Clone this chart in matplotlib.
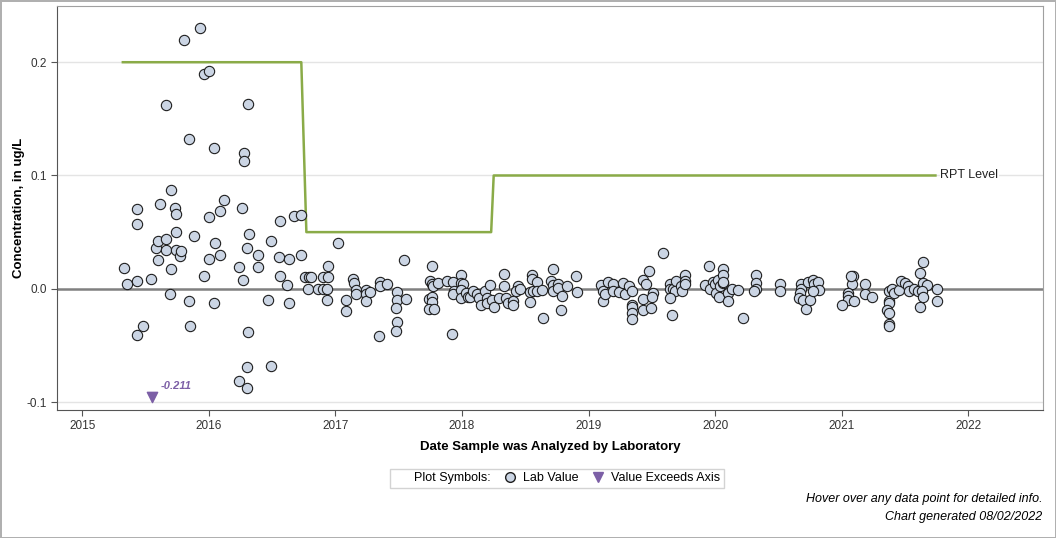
import matplotlib
matplotlib.use("Agg")
import matplotlib.pyplot as plt
from matplotlib.lines import Line2D

plt.rcParams["font.family"] = ["Liberation Sans", "DejaVu Sans"]

# sample dates as decimal years, concentrations in ug/L
sample_year = [
    2015.33, 2015.35, 2015.43, 2015.43, 2015.43, 2015.43, 2015.48, 2015.54, 2015.60, 2015.58,
    2015.60, 2015.61, 2015.66, 2015.66, 2015.66, 2015.69, 2015.70, 2015.70, 2015.73, 2015.74,
    2015.74, 2015.74, 2015.77, 2015.78, 2015.80, 2015.84, 2015.84, 2015.85, 2015.88, 2015.93,
    2015.96, 2015.96, 2016.00, 2016.00, 2016.00, 2016.04, 2016.04, 2016.05, 2016.09, 2016.09,
    2016.12,
    2016.31, 2016.28, 2016.28, 2016.26, 2016.56, 2016.67, 2016.73, 2016.32, 2016.49, 2016.30,
    2017.02, 2016.39, 2016.55, 2016.63, 2016.73, 2016.24, 2016.39, 2016.27, 2016.56, 2016.94,
    2016.76, 2016.79, 2016.81, 2016.90, 2016.94, 2016.62, 2016.78, 2016.86, 2016.90, 2016.93,
    2016.47, 2016.63, 2016.93, 2017.08, 2017.08, 2016.31, 2016.30, 2016.49, 2016.24, 2016.30,
    2017.54, 2017.76, 2017.14, 2017.15, 2017.16, 2017.16, 2017.24, 2017.24, 2017.24, 2017.27,
    2017.35, 2017.35, 2017.41, 2017.34, 2017.49, 2017.49, 2017.48, 2017.49, 2017.48, 2017.56,
    2017.75, 2017.76, 2017.77, 2017.74, 2017.76, 2017.76, 2017.74, 2017.78, 2017.81, 2017.88,
    2017.93, 2017.94, 2017.93, 2017.99, 2017.99, 2018.01, 2017.99, 2017.99, 2018.03, 2018.05,
    2017.92,
    2018.06, 2018.09, 2018.12, 2018.13, 2018.15, 2018.18, 2018.20, 2018.20, 2018.22, 2018.24,
    2018.25, 2018.29, 2018.33, 2018.33, 2018.35, 2018.36, 2018.40, 2018.40, 2018.44, 2018.43,
    2018.46, 2018.55, 2018.55, 2018.59, 2018.54, 2018.54, 2018.56, 2018.59, 2018.63, 2018.64,
    2018.70, 2018.72, 2018.72, 2018.72, 2018.76, 2018.76, 2018.79, 2018.78, 2018.83, 2018.90,
    2018.91,
    2019.10, 2019.11, 2019.11, 2019.13, 2019.15, 2019.19, 2019.19, 2019.24, 2019.27, 2019.29,
    2019.32, 2019.34, 2019.34, 2019.34, 2019.34, 2019.34, 2019.43, 2019.45, 2019.48, 2019.43,
    2019.51, 2019.50, 2019.43, 2019.49, 2019.59, 2019.64, 2019.64, 2019.67, 2019.69, 2019.68,
    2019.64, 2019.66, 2019.73, 2019.74, 2019.76, 2019.76, 2019.76, 2019.92, 2019.95, 2019.98,
    2019.96, 2020.00, 2020.01, 2020.02, 2020.04, 2020.06, 2020.06, 2020.06, 2020.06, 2020.03,
    2020.10, 2020.10,
    2020.13, 2020.18, 2020.22, 2020.32, 2020.32, 2020.32, 2020.31, 2020.51, 2020.51, 2020.68,
    2020.68, 2020.67, 2020.66, 2020.69, 2020.72, 2020.75, 2020.73, 2020.77, 2020.78, 2020.81,
    2020.82, 2020.77, 2021.09, 2021.08, 2021.05, 2021.05, 2021.05, 2021.00, 2021.10, 2021.07,
    2021.18, 2021.18, 2021.24, 2021.37, 2021.40, 2021.37, 2021.37, 2021.36, 2021.37, 2021.37,
    2021.37, 2021.41, 2021.45, 2021.47, 2021.50, 2021.52, 2021.53, 2021.57, 2021.60, 2021.64,
    2021.62, 2021.64, 2021.67, 2021.63, 2021.64, 2021.62, 2021.75, 2021.75,
]
concentration = [
    0.018, 0.004, 0.007, 0.070, 0.057, -0.041, -0.033, 0.009, 0.025, 0.036,
    0.042, 0.075, 0.044, 0.162, 0.034, -0.005, 0.017, 0.087, 0.071, 0.066,
    0.050, 0.034, 0.029, 0.033, 0.220, 0.132, -0.011, -0.033, 0.047, 0.230,
    0.011, 0.190, 0.192, 0.063, 0.026, 0.124, -0.013, 0.040, 0.069, 0.030,
    0.078,
    0.163, 0.120, 0.113, 0.071, 0.060, 0.064, 0.065, 0.048, 0.042, 0.036,
    0.040, 0.030, 0.028, 0.026, 0.030, 0.019, 0.019, 0.008, 0.011, 0.020,
    0.010, 0.010, 0.010, 0.010, 0.010, 0.003, 0.000, 0.000, 0.000, 0.000,
    -0.010, -0.013, -0.010, -0.010, -0.020, -0.038, -0.069, -0.068, -0.081, -0.088,
    0.025, 0.020, 0.009, 0.005, -0.001, -0.005, -0.001, -0.005, -0.011, -0.003,
    0.006, 0.002, 0.004, -0.042, -0.003, -0.010, -0.017, -0.029, -0.037, -0.009,
    0.007, 0.004, 0.002, -0.009, -0.007, -0.012, -0.018, -0.018, 0.005, 0.007,
    0.006, -0.002, -0.005, 0.012, 0.005, 0.004, -0.001, -0.008, -0.004, -0.007,
    -0.040,
    -0.007, -0.002, -0.005, -0.008, -0.014, -0.002, -0.008, -0.013, 0.003, -0.010,
    -0.016, -0.008, 0.013, 0.002, -0.008, -0.013, -0.011, -0.014, 0.002, -0.002,
    0.000, 0.012, 0.009, 0.006, -0.003, -0.012, -0.002, -0.002, -0.001, -0.026,
    0.007, 0.017, 0.003, -0.002, 0.004, 0.001, -0.006, -0.019, 0.002, 0.011,
    -0.003,
    0.003, -0.002, -0.011, -0.005, 0.006, 0.004, -0.002, -0.003, 0.005, -0.005,
    0.002, -0.002, -0.014, -0.016, -0.021, -0.027, 0.008, 0.004, 0.016, -0.009,
    -0.004, -0.007, -0.019, -0.017, 0.032, 0.004, 0.000, 0.000, 0.007, -0.002,
    -0.008, -0.023, 0.002, -0.002, 0.012, 0.007, 0.004, 0.003, 0.020, 0.006,
    0.000, 0.004, -0.004, 0.008, 0.002, 0.005, 0.017, 0.012, 0.006, -0.007,
    -0.004, -0.011,
    0.000, -0.001, -0.026, 0.012, 0.005, 0.000, -0.002, 0.004, -0.002, 0.004,
    0.000, -0.004, -0.008, -0.010, -0.018, -0.010, 0.006, 0.008, 0.004, 0.006,
    -0.001, -0.002, 0.011, 0.004, -0.004, -0.006, -0.010, -0.014, -0.011, 0.011,
    0.004, -0.005, -0.007, -0.002, 0.000, -0.011, -0.013, -0.019, -0.021, -0.031,
    -0.033, -0.004, -0.001, 0.007, 0.005, 0.002, -0.002, 0.000, -0.002, 0.024,
    0.014, 0.005, 0.003, -0.002, -0.007, -0.016, 0.000, -0.011,
]

# value below the axis range
exceed_year = [2015.55]
exceed_value = [-0.211]

# reporting level (step line)
rpt_year = [2015.32, 2016.73, 2016.77, 2018.23, 2018.25, 2021.74]
rpt_level = [0.2, 0.2, 0.05, 0.05, 0.1, 0.1]

xticks = [2015, 2016, 2017, 2018, 2019, 2020, 2021, 2022]
yticks = [-0.1, 0.0, 0.1, 0.2]
ymin, ymax = -0.107, 0.2497

fig = plt.figure(figsize=(10.56, 5.38), dpi=100)
fig.patch.set_edgecolor("#b0b0b0")
fig.patch.set_linewidth(1)
ax = fig.add_axes([0.054, 0.238, 0.9337, 0.751])

ax.set_xlim(2014.80, 2022.59)
ax.set_ylim(ymin, ymax)
for y in yticks:
    if y != 0:
        ax.axhline(y, color="#e4e4e4", lw=1, zorder=0)
ax.axhline(0, color="#808080", lw=1.8, zorder=1)

ax.plot(rpt_year, rpt_level, color="#8aab48", lw=1.8, zorder=2)
ax.text(rpt_year[-1] + 0.04, rpt_level[-1], "RPT Level", fontsize=9,
        va="center", ha="left", color="#222222",
        bbox=dict(facecolor="white", edgecolor="none", pad=0.5), zorder=3)

ax.scatter(sample_year, concentration, s=55, facecolor="#cbd5e4",
           edgecolor="#1e1e1e", linewidths=0.8, zorder=4)

# marker for the value off the axis
ypos = [ymin + 0.011 for _ in exceed_value]
ax.scatter(exceed_year, ypos, marker="v", s=55, color="#7c5fa6", zorder=4)
for x, y, v in zip(exceed_year, ypos, exceed_value):
    ax.annotate(f"{v:.3f}", (x, y), xytext=(6, 6), textcoords="offset points",
                fontsize=8, color="#7c5fa6", fontweight="bold", style="italic")

ax.set_xticks(xticks)
ax.set_xticklabels([str(t) for t in xticks])
ax.set_yticks(yticks)
ax.set_yticklabels([f"{t:.1f}" for t in yticks])
ax.tick_params(labelsize=8.5, colors="#333333", length=4, color="#555555")
for s in ax.spines.values():
    s.set_color("#a0a0a0")
ax.spines["left"].set_color("#555555")
ax.spines["bottom"].set_color("#555555")

ax.set_xlabel("Date Sample was Analyzed by Laboratory", fontsize=9.5,
              fontweight="bold", labelpad=6)
ax.set_ylabel("Concentration, in ug/L", fontsize=9.5, fontweight="bold",
              labelpad=1)

handles = [
    Line2D([], [], linestyle="none", marker=None),
    Line2D([], [], linestyle="none", marker="o", markersize=7,
           markerfacecolor="#cbd5e4", markeredgecolor="#1e1e1e"),
    Line2D([], [], linestyle="none", marker="v", markersize=7,
           color="#7c5fa6"),
]
labels = ["Plot Symbols:", "Lab Value", "Value Exceeds Axis"]
leg = fig.legend(handles, labels, ncol=3, loc="center",
                 bbox_to_anchor=(0.5275, 0.111), fontsize=9, frameon=True,
                 fancybox=False, edgecolor="#c8c8c8", handlelength=1.1,
                 handletextpad=0.5, columnspacing=1.0, borderpad=0.3)
leg.get_frame().set_linewidth(1)

fig.text(0.987, 0.067, "Hover over any data point for detailed info.",
         ha="right", fontsize=9, style="italic")
fig.text(0.987, 0.033, "Chart generated 08/02/2022",
         ha="right", fontsize=9, style="italic")

fig.savefig("out.png", dpi=100)
